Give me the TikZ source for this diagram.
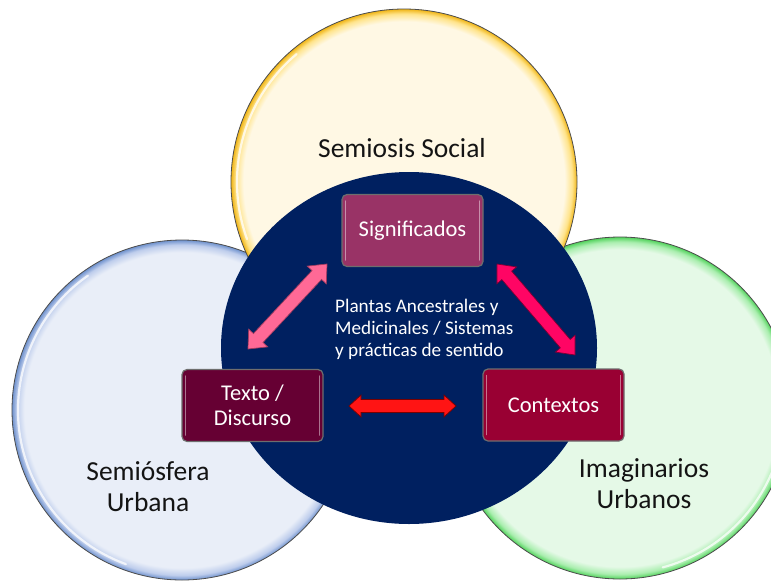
\documentclass[tikz,border=0pt]{standalone}
\usepackage{fontspec}
\setmainfont{Carlito}
\usetikzlibrary{calc}
\definecolor{navy}{RGB}{0,32,96}
\definecolor{creamY}{RGB}{255,248,228}
\definecolor{midY}{RGB}{255,228,140}
\definecolor{rimY}{RGB}{240,180,20}
\definecolor{creamB}{RGB}{233,238,248}
\definecolor{midB}{RGB}{190,205,236}
\definecolor{rimB}{RGB}{110,145,205}
\definecolor{creamG}{RGB}{229,249,231}
\definecolor{midG}{RGB}{170,238,175}
\definecolor{rimG}{RGB}{80,210,90}
\definecolor{sigfill}{RGB}{153,51,102}
\definecolor{texfill}{RGB}{102,0,51}
\definecolor{confill}{RGB}{153,0,51}
\definecolor{boxborder}{RGB}{110,110,110}
\definecolor{pinkL}{RGB}{255,105,150}
\definecolor{pinkLb}{RGB}{160,60,95}
\definecolor{pinkR}{RGB}{255,5,100}
\definecolor{pinkRb}{RGB}{120,0,50}
\definecolor{redH}{RGB}{255,20,20}
\definecolor{redHb}{RGB}{120,0,0}
\definecolor{labelcol}{RGB}{20,20,20}
\pgfdeclareradialshading{ballY}{\pgfpoint{0bp}{0bp}}{color(0bp)=(creamY); color(23.2bp)=(creamY); color(24.3bp)=(midY); color(25bp)=(rimY); color(50bp)=(rimY)}
\pgfdeclareradialshading{ballB}{\pgfpoint{0bp}{0bp}}{color(0bp)=(creamB); color(23.2bp)=(creamB); color(24.3bp)=(midB); color(25bp)=(rimB); color(50bp)=(rimB)}
\pgfdeclareradialshading{ballG}{\pgfpoint{0bp}{0bp}}{color(0bp)=(creamG); color(23.2bp)=(creamG); color(24.3bp)=(midG); color(25bp)=(rimG); color(50bp)=(rimG)}
\newcommand{\mydblarrow}[7]{%
  \filldraw[fill=#3, draw=#4, line width=0.7pt, line join=miter]
  (#1) -- ($(#1)!#7!(#2)!#5!90:(#2)$) -- ($(#1)!#7!(#2)!#6!90:(#2)$)
  -- ($(#2)!#7!(#1)!#6!-90:(#1)$) -- ($(#2)!#7!(#1)!#5!-90:(#1)$) -- (#2)
  -- ($(#2)!#7!(#1)!#5!90:(#1)$) -- ($(#2)!#7!(#1)!#6!90:(#1)$)
  -- ($(#1)!#7!(#2)!#6!-90:(#2)$) -- ($(#1)!#7!(#2)!#5!-90:(#2)$) -- cycle;}
\tikzset{
  outline/.style={draw=black!70, line width=0.8pt},
  gloss/.style={draw=white, line width=2.2pt, opacity=0.75, line cap=round},
  stepbox/.style={rectangle, rounded corners=5pt, draw=boxborder, line width=1.2pt,
    minimum width=141pt, minimum height=72pt, text=white, align=center,
    inner sep=0pt, font=\fontsize{22.5}{25}\selectfont},
  boxhl/.style={draw=white, opacity=0.45, line width=1.3pt, line cap=round},
  lbl/.style={text=labelcol, align=center, inner sep=0pt, font=\fontsize{27.5}{31}\selectfont},
  midtxt/.style={text=white, align=left, inner sep=0pt, font=\fontsize{19.2}{22}\selectfont}
}
\begin{document}
\begin{tikzpicture}[x=1pt,y=-1pt]
\clip (0,0) rectangle (771,584);
\fill[white] (0,0) rectangle (771,584);
% outer circles
\shadedraw[shading=ballG, outline] (620,408) circle[radius=171pt];
\shadedraw[shading=ballB, outline] (182,410) circle[radius=170pt];
\shadedraw[shading=ballY, outline] (404,182) circle[radius=173pt];
% gloss highlights
\draw[gloss] ($(182,410)+(125:164pt)$) arc[start angle=125, end angle=250, radius=164pt];
\draw[gloss] ($(620,408)+(-75:165pt)$) arc[start angle=-75, end angle=10, radius=165pt];
\draw[gloss] ($(404,182)+(130:167pt)$) arc[start angle=130, end angle=200, radius=167pt];
% central circle
\fill[navy] (409,348) ellipse[x radius=188pt, y radius=176pt];
% labels
\node[lbl, anchor=base] (ss) at (402,157) {Semiosis Social};
\node[lbl] (su) at (148,487) {Semiósfera\\Urbana};
\node[lbl] (iu) at (644,484) {Imaginarios\\Urbanos};
% boxes
\node[stepbox, fill=sigfill] (sig) at (412.5,230.5) {Significados};
\node[stepbox, fill=texfill] (tex) at (252.5,405.5) {Texto /\\Discurso};
\node[stepbox, fill=confill] (con) at (553.5,405) {Contextos};
\foreach \b in {sig,tex,con}{
  \draw[boxhl] ([xshift=4pt,yshift=-7pt]\b.north west) -- ([xshift=4pt,yshift=7pt]\b.south west);
  \draw[boxhl] ([xshift=-4pt,yshift=-7pt]\b.north east) -- ([xshift=-4pt,yshift=7pt]\b.south east);
}
% middle text
\node[midtxt, anchor=north west] (mid) at (335,299) {Plantas Ancestrales y\\Medicinales / Sistemas\\y prácticas de sentido};
% arrows
\coordinate (la) at (248,349);
\coordinate (lb) at (327,264);
\coordinate (ra) at (497,264);
\coordinate (rb) at (575,355);
\coordinate (ha) at (349,406);
\coordinate (hb) at (456,406);
\mydblarrow{la}{lb}{pinkL}{pinkLb}{13pt}{6.5pt}{15pt}
\mydblarrow{ra}{rb}{pinkR}{pinkRb}{13pt}{6.5pt}{15pt}
\mydblarrow{ha}{hb}{redH}{redHb}{11pt}{6.5pt}{12pt}
\end{tikzpicture}
\end{document}
